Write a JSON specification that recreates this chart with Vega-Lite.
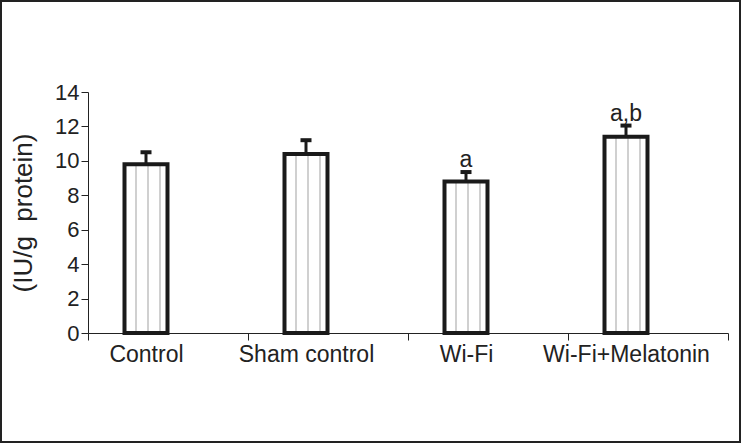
{
  "$schema": "https://vega.github.io/schema/vega-lite/v6.json",
  "width": 739,
  "height": 441,
  "autosize": {"type": "none"},
  "padding": {"left": 1, "top": 1, "right": 2, "bottom": 1},
  "background": "white",
  "config": {
    "view": {"stroke": "#222222", "strokeWidth": 2},
    "font": "Liberation Sans",
    "axis": {"grid": false}
  },
  "data": {
    "values": [
      {"group": "Control", "mean": 9.8, "upper": 10.5, "sig": ""},
      {"group": "Sham control", "mean": 10.4, "upper": 11.2, "sig": ""},
      {"group": "Wi-Fi", "mean": 8.8, "upper": 9.35, "sig": "a"},
      {"group": "Wi-Fi+Melatonin", "mean": 11.4, "upper": 12.05, "sig": "a,b"}
    ]
  },
  "encoding": {
    "x": {
      "field": "group",
      "type": "nominal",
      "sort": null,
      "scale": {"range": [87, 727], "paddingInner": 0, "paddingOuter": 0},
      "axis": {
        "orient": "bottom",
        "offset": -109,
        "title": null,
        "labelAngle": 0,
        "tickBand": "extent",
        "tickSize": 7,
        "tickColor": "#222222",
        "domainColor": "#222222",
        "labelColor": "#222222",
        "labelFontSize": 23,
        "labelPadding": 3,
        "labelOffset": -22,
        "labelFont": "Liberation Sans"
      }
    }
  },
  "layer": [
    {
      "mark": {
        "type": "bar",
        "width": 43,
        "xOffset": -22,
        "stroke": "#1a1a1a",
        "strokeWidth": 4,
        "fill": {
          "gradient": "linear",
          "x1": 0, "y1": 0, "x2": 1, "y2": 0,
          "stops": [
            {"offset": 0, "color": "#ffffff"},
            {"offset": 0.25, "color": "#ffffff"},
            {"offset": 0.25, "color": "#d0d0d0"},
            {"offset": 0.3, "color": "#d0d0d0"},
            {"offset": 0.3, "color": "#ffffff"},
            {"offset": 0.53, "color": "#ffffff"},
            {"offset": 0.53, "color": "#d0d0d0"},
            {"offset": 0.58, "color": "#d0d0d0"},
            {"offset": 0.58, "color": "#ffffff"},
            {"offset": 0.81, "color": "#ffffff"},
            {"offset": 0.81, "color": "#d0d0d0"},
            {"offset": 0.86, "color": "#d0d0d0"},
            {"offset": 0.86, "color": "#ffffff"},
            {"offset": 1, "color": "#ffffff"}
          ]
        }
      },
      "encoding": {
        "y": {
          "field": "mean",
          "type": "quantitative",
          "scale": {"domain": [0, 14], "range": [332, 91], "nice": false, "zero": true},
          "axis": {
            "orient": "left",
            "offset": -87,
            "values": [0, 2, 4, 6, 8, 10, 12, 14],
            "tickSize": 7,
            "tickColor": "#222222",
            "domainColor": "#222222",
            "labelColor": "#222222",
            "labelFontSize": 22,
            "labelPadding": 2,
            "title": "(IU/g\u00a0\u00a0protein)",
            "titleFontSize": 26,
            "titleFontWeight": "normal",
            "titleColor": "#222222",
            "titlePadding": 18,
            "titleFont": "Liberation Sans",
            "labelFont": "Liberation Sans"
          }
        }
      }
    },
    {
      "mark": {"type": "rule", "xOffset": -22, "strokeWidth": 3, "color": "#1a1a1a"},
      "encoding": {
        "y": {"field": "mean", "type": "quantitative"},
        "y2": {"field": "upper"}
      }
    },
    {
      "mark": {"type": "tick", "orient": "horizontal", "xOffset": -22, "size": 11, "thickness": 4, "color": "#1a1a1a", "opacity": 1},
      "encoding": {
        "y": {"field": "upper", "type": "quantitative"}
      }
    },
    {
      "mark": {"type": "text", "dx": -22, "dy": -5, "baseline": "alphabetic", "fontSize": 23, "color": "#222222", "font": "Liberation Sans"},
      "encoding": {
        "y": {"field": "upper", "type": "quantitative"},
        "text": {"field": "sig"}
      }
    }
  ]
}
